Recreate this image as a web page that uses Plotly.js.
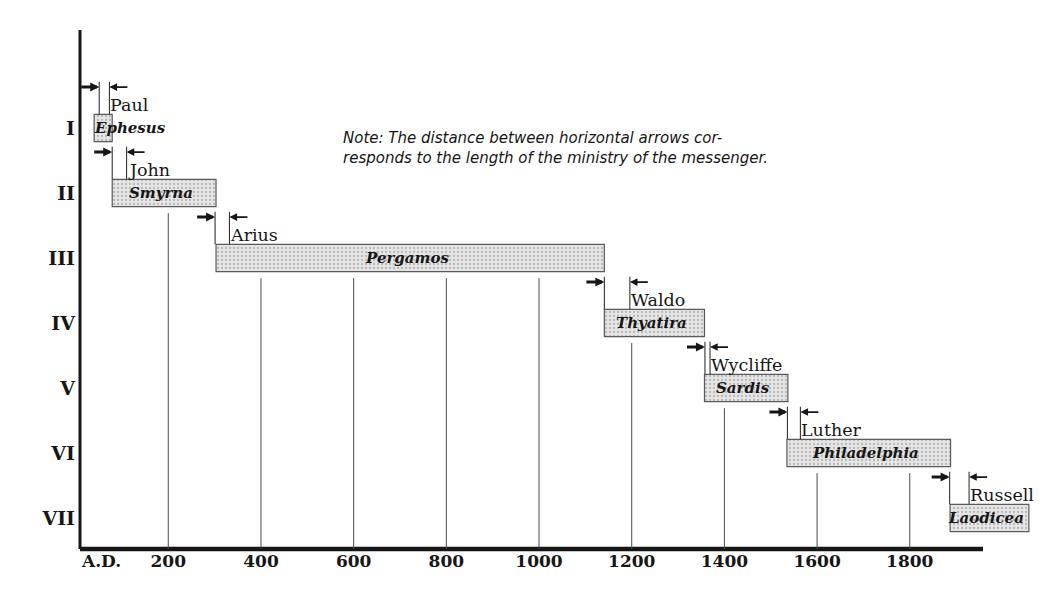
<!DOCTYPE html>
<html>
<head>
<meta charset="utf-8">
<script src="https://cdn.plot.ly/plotly-3.0.1.min.js"></script>
<style>html,body{margin:0;padding:0;background:#fff;}#chart{width:1052px;height:595px;}</style>
</head>
<body>
<div id="chart"></div>
<script>
// ---- data ----
var rowLabels = ['I', 'II', 'III', 'IV', 'V', 'VI', 'VII'];
var churches = ['Ephesus', 'Smyrna', 'Pergamos', 'Thyatira', 'Sardis', 'Philadelphia', 'Laodicea'];
var periodStart = [40, 79, 303, 1141, 1357, 1535, 1887];
var periodEnd = [79, 303, 1141, 1357, 1537, 1888, 2057];
var messengers = ['Paul', 'John', 'Arius', 'Waldo', 'Wycliffe', 'Luther', 'Russell'];
var ministryStart = [51, 79, 301, 1141, 1358, 1536, 1886];
var ministryEnd = [73, 110, 332, 1196, 1369, 1564, 1928];
var tickYears = [56, 200, 400, 600, 800, 1000, 1200, 1400, 1600, 1800];
var tickText = ['A.D.', '200', '400', '600', '800', '1000', '1200', '1400', '1600', '1800'];

// ---- layout constants ----
var xRange = [9.5, 2081];
var yRange = [7.477, -0.508];
var barHalf = 0.21;
var arrowOffset = 0.63;
var arrowLen = 42;
var axisEndYear = 1958;
var ink = '#161616';

var rows = rowLabels.map(function (_, i) { return i + 1; });
var durations = periodEnd.map(function (e, i) { return e - periodStart[i]; });

var barTrace = {
  type: 'bar',
  orientation: 'h',
  y: rows,
  x: durations,
  base: periodStart,
  width: barHalf * 2,
  marker: {
    color: '#e4e4e4',
    line: { color: '#5a5a5a', width: 1.2 },
    pattern: { shape: '.', fgcolor: '#b8b8b8', bgcolor: '#e6e6e6', size: 4, solidity: 0.25 }
  },
  hoverinfo: 'skip',
  showlegend: false
};

var shapes = [];
var annotations = [];

// axis lines
shapes.push({ type: 'line', xref: 'paper', yref: 'paper', x0: 0, x1: 0, y0: 0, y1: 1,
  line: { color: ink, width: 3 } });
shapes.push({ type: 'line', xref: 'x', yref: 'paper', x0: xRange[0] - 4, x1: axisEndYear, y0: 0, y1: 0,
  line: { color: ink, width: 4.5 } });

// vertical year lines from below the bar covering the year down to the axis
tickYears.forEach(function (t, k) {
  if (tickText[k] === 'A.D.') return;
  for (var i = 0; i < churches.length; i++) {
    if (t >= periodStart[i] && t < periodEnd[i]) {
      shapes.push({ type: 'line', xref: 'x', yref: 'y', x0: t, x1: t,
        y0: rows[i] + barHalf + 0.1, y1: yRange[0],
        line: { color: '#4a4a4a', width: 1 } });
      break;
    }
  }
});

var pxPerYear = 960 / (xRange[1] - xRange[0]);

churches.forEach(function (name, i) {
  var r = rows[i];
  var barTop = r - barHalf;
  var arrowY = r - arrowOffset;
  var s = ministryStart[i], e = ministryEnd[i];

  // ministry start / end markers
  shapes.push({ type: 'line', xref: 'x', yref: 'y', x0: s, x1: s, y0: arrowY - 0.08, y1: barTop,
    line: { color: '#333', width: 1.1 } });
  shapes.push({ type: 'line', xref: 'x', yref: 'y', x0: e, x1: e, y0: arrowY - 0.08, y1: barTop,
    line: { color: '#333', width: 1.1 } });

  // arrows
  annotations.push({ x: s, y: arrowY, ax: s - arrowLen, ay: arrowY, xref: 'x', yref: 'y',
    axref: 'x', ayref: 'y', text: '', showarrow: true, arrowhead: 2, arrowsize: 0.6,
    arrowwidth: 3, arrowcolor: ink });
  annotations.push({ x: e, y: arrowY, ax: e + arrowLen, ay: arrowY, xref: 'x', yref: 'y',
    axref: 'x', ayref: 'y', text: '', showarrow: true, arrowhead: 2, arrowsize: 0.85,
    arrowwidth: 1.8, arrowcolor: ink });

  // messenger name
  annotations.push({ x: e, y: barTop, xref: 'x', yref: 'y', text: messengers[i],
    showarrow: false, xanchor: 'left', yanchor: 'bottom', xshift: -1, yshift: -3,
    font: { family: 'DejaVu Serif', size: 17.5, color: ink } });

  // church name in bar
  var widthPx = (periodEnd[i] - periodStart[i]) * pxPerYear;
  var fits = widthPx > 60;
  annotations.push({ x: fits ? (periodStart[i] + periodEnd[i]) / 2 : periodStart[i], y: r,
    xref: 'x', yref: 'y', text: '<b><i>' + name + '</i></b>', showarrow: false,
    xanchor: fits ? 'center' : 'left', yanchor: 'middle', xshift: fits ? -3 : -2,
    font: { family: 'DejaVu Serif', size: 15, color: ink } });
});

// note
annotations.push({ xref: 'paper', yref: 'paper', x: 0.272, y: 0.773, xanchor: 'left', yanchor: 'middle',
  align: 'left', showarrow: false,
  text: '<i>Note: The distance between horizontal arrows cor-<br>responds to the length of the ministry of the messenger.</i>',
  font: { family: 'DejaVu Sans', size: 15, color: ink } });

var layout = {
  width: 1052, height: 595,
  margin: { l: 80, r: 12, t: 30, b: 46 },
  paper_bgcolor: '#fff', plot_bgcolor: '#fff',
  showlegend: false,
  xaxis: {
    range: xRange, autorange: false, showgrid: false, zeroline: false, showline: false,
    tickmode: 'array', tickvals: tickYears, ticktext: tickText, ticks: '',
    tickfont: { family: 'DejaVu Serif', size: 17, color: ink, weight: 'bold' },
    fixedrange: true
  },
  yaxis: {
    range: yRange, autorange: false, showgrid: false, zeroline: false, showline: false,
    tickmode: 'array', tickvals: rows, ticktext: rowLabels, ticks: '',
    ticklabelstandoff: 4,
    tickfont: { family: 'DejaVu Serif', size: 19, color: ink, weight: 'bold' },
    fixedrange: true
  },
  shapes: shapes,
  annotations: annotations
};

Plotly.newPlot('chart', [barTrace], layout, { staticPlot: true, displayModeBar: false });
</script>
</body>
</html>
